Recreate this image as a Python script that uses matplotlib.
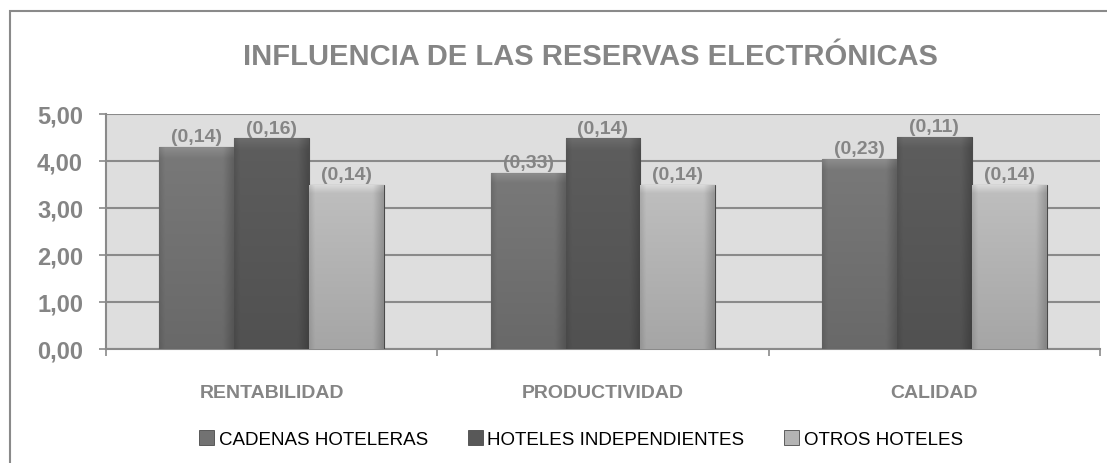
import numpy as np
import matplotlib
matplotlib.use("Agg")
import matplotlib.pyplot as plt
from matplotlib.patches import Rectangle

categories = ["RENTABILIDAD", "PRODUCTIVIDAD", "CALIDAD"]
series = ["CADENAS HOTELERAS", "HOTELES INDEPENDIENTES", "OTROS HOTELES"]
cadenas = [4.29, 3.74, 4.04]
independientes = [4.48, 4.48, 4.52]
otros = [3.50, 3.50, 3.50]
# labels shown above the bars
cadenas_lbl = ["(0,14)", "(0,33)", "(0,23)"]
independientes_lbl = ["(0,16)", "(0,14)", "(0,11)"]
otros_lbl = ["(0,14)", "(0,14)", "(0,14)"]

values = [cadenas, independientes, otros]
labels = [cadenas_lbl, independientes_lbl, otros_lbl]
colors = ["#727272", "#585858", "#b4b4b4"]

font = "Liberation Sans"
grey_txt = "#858585"

fig = plt.figure(figsize=(11.07, 4.64), dpi=100)
ax = fig.add_axes([106 / 1107, 1 - 350 / 464, 994 / 1107, 235 / 464])
ax.set_facecolor("#dedede")

x = np.arange(len(categories))
w = 0.226


def shade(color, h=80, n=40):
    # bevel look: light band at top, darker right side and bottom
    base = np.array(matplotlib.colors.to_rgb(color))
    xs = np.linspace(0, 1, n)
    ys = np.linspace(0, 1, h)
    side = 1 - 0.2 * np.clip((xs - 0.86) / 0.14, 0, 1) - 0.1 * np.clip((0.07 - xs) / 0.07, 0, 1)
    vert = 1.06 - 0.14 * ys
    top = 1 + 0.15 * np.clip((0.05 - ys) / 0.05, 0, 1)
    f = vert[:, None] * side[None, :] * top[:, None]
    return np.clip(base[None, None, :] * f[:, :, None], 0, 1)


for i, (vals, lbls, col) in enumerate(zip(values, labels, colors)):
    bars = ax.bar(x + (i - 1) * w, vals, w, color=col, edgecolor="#4a4a4a",
                  linewidth=0.8, zorder=3)
    for b, lb in zip(bars, lbls):
        x0, wd, ht = b.get_x(), b.get_width(), b.get_height()
        im = ax.imshow(shade(col), extent=[x0, x0 + wd, 0, ht], aspect="auto",
                       zorder=3.5, interpolation="bilinear")
        im.set_clip_path(b)
        ax.text(x0 + wd / 2, ht + 0.04, lb, ha="center", va="bottom",
                fontsize=14, fontweight="bold", color=grey_txt,
                family=font, zorder=5)

ax.set_xlim(-0.5, 2.5)
ax.set_ylim(0, 5)
ax.set_yticks(np.arange(0, 6, 1))
ax.set_yticklabels([f"{v:.2f}".replace(".", ",") for v in np.arange(0, 6, 1)],
                   fontsize=17, fontweight="bold", color=grey_txt, family=font)
ax.tick_params(axis="y", length=5, width=1.2, color="#8a8a8a", pad=11.5)
ax.yaxis.grid(True, color="#8a8a8a", linewidth=1.5, zorder=1)
ax.set_axisbelow(True)

ax.set_xticks(x)
ax.set_xticklabels(categories, fontsize=14, fontweight="bold", color=grey_txt,
                   family=font)
ax.set_xticks([-0.5, 0.5, 1.5, 2.5], minor=True)
ax.tick_params(axis="x", which="major", length=0, pad=25)
ax.tick_params(axis="x", which="minor", length=5, width=1.2, color="#8a8a8a")

for s in ["top", "right"]:
    ax.spines[s].set_visible(False)
for s in ["left", "bottom"]:
    ax.spines[s].set_color("#8a8a8a")
    ax.spines[s].set_linewidth(1.5)

# outer chart frame
fig.patches.append(Rectangle((10 / 1107, -0.1), 1.2, 0.1 + 1 - 12 / 464,
                             transform=fig.transFigure, fill=False,
                             edgecolor="#8a8a8a", linewidth=1.5))

fig.text(590 / 1107, 1 - 57 / 464, "INFLUENCIA DE LAS RESERVAS ELECTRÓNICAS",
         ha="center", va="center", fontsize=21, fontweight="bold",
         color="#858585", family=font)

handles = [Rectangle((0, 0), 1, 1, facecolor=c, edgecolor="#4a4a4a", linewidth=0.6)
           for c in colors]
fig.legend(handles, series, loc="center", bbox_to_anchor=(581 / 1107, 1 - 440 / 464),
           ncol=3, frameon=False, prop={"family": font, "size": 13.5},
           handlelength=0.8, handleheight=0.8, handletextpad=0.25, columnspacing=2.1)

fig.savefig("out.png", dpi=100)
